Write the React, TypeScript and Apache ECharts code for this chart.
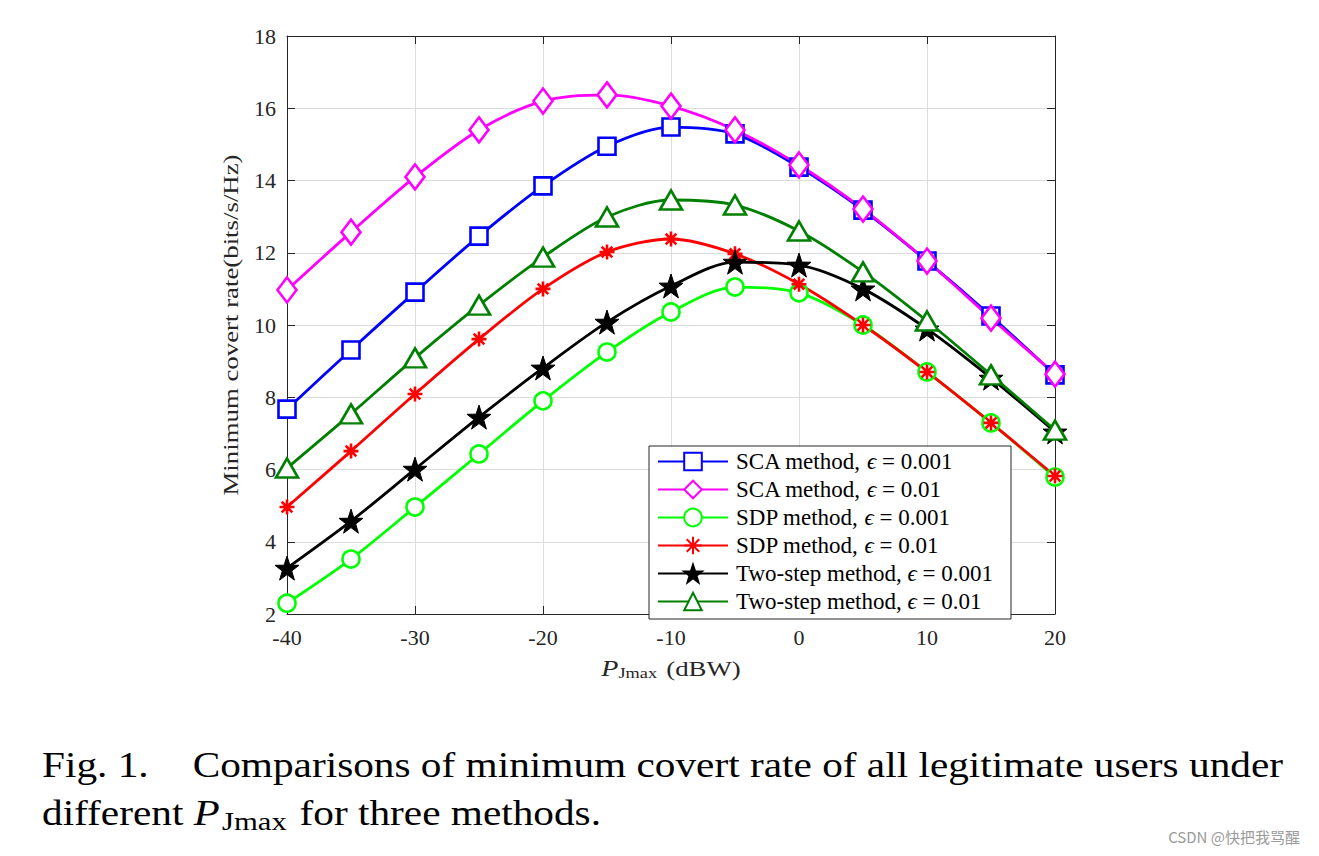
import { useEffect, useRef } from "react";
import * as echarts from "echarts";

const xValues = [-40, -35, -30, -25, -20, -15, -10, -5, 0, 5, 10, 15, 20];

const scaEps001 = [7.67, 9.31, 10.91, 12.46, 13.85, 14.95, 15.48, 15.29, 14.37, 13.18, 11.77, 10.25, 8.62];
const scaEps01 = [10.97, 12.57, 14.1, 15.4, 16.2, 16.37, 16.06, 15.4, 14.43, 13.21, 11.77, 10.19, 8.64];
const sdpEps001 = [2.3, 3.52, 4.96, 6.43, 7.9, 9.25, 10.36, 11.05, 10.89, 10.0, 8.7, 7.29, 5.79];
const sdpEps01 = [4.96, 6.51, 8.09, 9.61, 11.0, 12.02, 12.38, 11.97, 11.13, 10.0, 8.7, 7.29, 5.82];
const twoStepEps001 = [3.27, 4.57, 6.01, 7.45, 8.81, 10.08, 11.08, 11.74, 11.66, 11.0, 9.89, 8.53, 7.04];
const twoStepEps01 = [6.04, 7.54, 9.09, 10.55, 11.88, 12.99, 13.46, 13.32, 12.6, 11.47, 10.11, 8.62, 7.09];

const seriesNames = [
  "SCA method, ϵ = 0.001",
  "SCA method, ϵ = 0.01",
  "SDP method, ϵ = 0.001",
  "SDP method, ϵ = 0.01",
  "Two-step method, ϵ = 0.001",
  "Two-step method, ϵ = 0.01",
];

const yAxisTitle = "Minimum covert rate(bits/s/Hz)";
const captionFig = "Fig. 1.";
const captionLine1 = "Comparisons of minimum covert rate of all legitimate users under";
const watermark = "CSDN @快把我骂醒";

const SERIF = '"Liberation Serif", "Times New Roman", serif';
const INK = "#262626";

function starPath(): string {
  const pts: string[] = [];
  for (let i = 0; i < 10; i++) {
    const r = i % 2 === 0 ? 12 : 4.7;
    const a = -Math.PI / 2 + (i * Math.PI) / 5;
    pts.push(`${(12 + r * Math.cos(a)).toFixed(2)} ${(12 + r * Math.sin(a)).toFixed(2)}`);
  }
  return "path://M" + pts.join(" L") + " Z";
}
const asteriskPath = "path://M12 0 L12 24 M0 12 L24 12 M3.5 3.5 L20.5 20.5 M3.5 20.5 L20.5 3.5";

export default function App() {
  const ref = useRef<HTMLDivElement>(null);
  useEffect(() => {
    if (!ref.current) return;
    const chart = echarts.init(ref.current, null, { renderer: "svg" });
    const mk = (
      name: string,
      data: number[],
      color: string,
      symbol: string,
      size: number | number[],
      fill: string,
      bw: number
    ) => ({
      type: "line",
      name,
      data: xValues.map((x, i) => [x, data[i]]),
      smooth: 0.3,
      symbol,
      symbolSize: size,
      showAllSymbol: true,
      lineStyle: { color, width: 2.8 },
      itemStyle: { color: fill, borderColor: color, borderWidth: bw },
      emphasis: { disabled: true },
      z: 3,
    });
    const axisLine = { show: true, onZero: false, lineStyle: { color: INK, width: 1 } };
    const axisTick = { show: true, inside: true, length: 8, lineStyle: { color: INK } };
    const capScale = 1.18;
    chart.setOption({
      animation: false,
      backgroundColor: "#ffffff",
      grid: { left: 287, top: 36, width: 768, height: 578, containLabel: false },
      xAxis: [
        {
          type: "value",
          min: -40,
          max: 20,
          interval: 10,
          position: "bottom",
          axisLine,
          axisTick,
          splitLine: { show: true, lineStyle: { color: "#dcdcdc", width: 1 } },
          axisLabel: { color: INK, fontFamily: SERIF, fontSize: 22, margin: 12 },
        },
        {
          type: "value",
          min: -40,
          max: 20,
          interval: 10,
          position: "top",
          axisLine,
          axisTick,
          splitLine: { show: false },
          axisLabel: { show: false },
        },
      ],
      yAxis: [
        {
          type: "value",
          min: 2,
          max: 18,
          interval: 2,
          position: "left",
          axisLine,
          axisTick,
          splitLine: { show: true, lineStyle: { color: "#dcdcdc", width: 1 } },
          axisLabel: { color: INK, fontFamily: SERIF, fontSize: 22, margin: 11 },
        },
        {
          type: "value",
          min: 2,
          max: 18,
          interval: 2,
          position: "right",
          axisLine,
          axisTick,
          splitLine: { show: false },
          axisLabel: { show: false },
        },
      ],
      legend: {
        orient: "vertical",
        left: 649,
        top: 446,
        padding: [4, 18, 6, 8],
        itemWidth: 70,
        itemHeight: 22,
        itemGap: 5,
        backgroundColor: "#ffffff",
        borderColor: INK,
        borderWidth: 1,
        borderRadius: 0,
        data: seriesNames,
        formatter: (name: string) => name.replace("ϵ", "{e|ϵ}"),
        textStyle: {
          color: "#000000",
          fontFamily: SERIF,
          fontSize: 23,
          lineHeight: 22,
          padding: [0, 0, 0, 3],
          rich: {
            e: { fontStyle: "italic", fontFamily: SERIF, fontSize: 23, lineHeight: 22, color: "#000000" },
          },
        },
      },
      series: [
        mk(seriesNames[0], scaEps001, "#0000ff", "rect", 17, "#ffffff", 2.6),
        mk(seriesNames[1], scaEps01, "#ff00ff", "diamond", [19, 25], "#ffffff", 2.6),
        mk(seriesNames[2], sdpEps001, "#00ff00", "circle", 17, "#ffffff", 2.6),
        mk(seriesNames[3], sdpEps01, "#ff0000", asteriskPath, 15, "#ff0000", 2.6),
        mk(seriesNames[4], twoStepEps001, "#000000", starPath(), 24, "#000000", 1),
        mk(seriesNames[5], twoStepEps01, "#008000", "triangle", [22, 19], "#ffffff", 2.6),
      ],
      graphic: [
        {
          type: "text",
          x: 230,
          y: 325,
          rotation: Math.PI / 2,
          scaleX: 1.22,
          z: 10,
          style: {
            text: yAxisTitle,
            font: `22px ${SERIF}`,
            fill: INK,
            textAlign: "center",
            textVerticalAlign: "middle",
          },
        },
        {
          type: "text",
          x: 671,
          y: 668,
          scaleX: 1.22,
          z: 10,
          style: {
            text: "{p|P}{s|Jmax}{n| (dBW)}",
            fill: INK,
            textAlign: "center",
            textVerticalAlign: "middle",
            rich: {
              p: { fontSize: 23, fontFamily: SERIF, fontStyle: "italic", fill: INK },
              s: { fontSize: 15, fontFamily: SERIF, fill: INK, padding: [10, 2, 0, 0] },
              n: { fontSize: 22, fontFamily: SERIF, fill: INK },
            },
          },
        },
        {
          type: "text",
          x: 42,
          y: 748,
          scaleX: capScale,
          style: { text: captionFig, font: `35px ${SERIF}`, fill: "#000000", textVerticalAlign: "top" },
        },
        {
          type: "text",
          x: 1283,
          y: 748,
          scaleX: capScale,
          style: {
            text: captionLine1,
            font: `35px ${SERIF}`,
            fill: "#000000",
            textAlign: "right",
            textVerticalAlign: "top",
          },
        },
        {
          type: "text",
          x: 42,
          y: 793,
          scaleX: capScale,
          style: {
            text: "{n|different }{p|P}{s|Jmax}{n| for three methods.}",
            fill: "#000000",
            textVerticalAlign: "top",
            rich: {
              n: { fontSize: 35, fontFamily: SERIF, fill: "#000000" },
              p: { fontSize: 36, fontFamily: SERIF, fontStyle: "italic", fill: "#000000" },
              s: { fontSize: 26, fontFamily: SERIF, fill: "#000000", padding: [15, 2, 0, 2] },
            },
          },
        },
        {
          type: "text",
          x: 1300,
          y: 836,
          style: {
            text: watermark,
            font: '15px "Noto Sans CJK SC", "Noto Sans", sans-serif',
            fill: "#9a9a9a",
            textAlign: "right",
            textVerticalAlign: "middle",
          },
        },
      ],
    });
    return () => chart.dispose();
  }, []);
  return (
    <div
      ref={ref}
      style={{ position: "fixed", left: 0, top: 0, width: 1319, height: 856, background: "#fff" }}
    />
  );
}
